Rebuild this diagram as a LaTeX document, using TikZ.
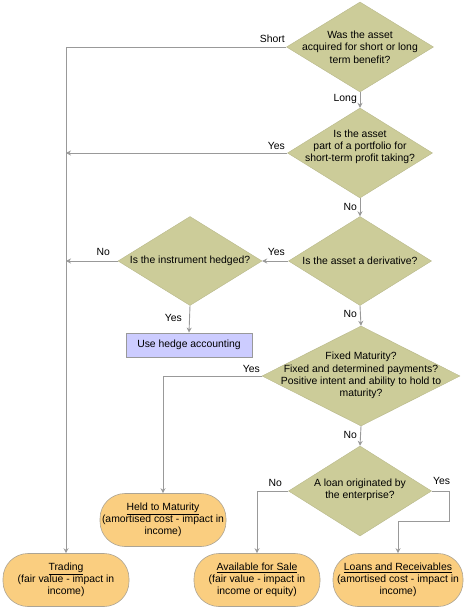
\documentclass[tikz,border=0pt]{standalone}
\usepackage{fontspec}
\setmainfont{Liberation Sans}
\usetikzlibrary{shapes.geometric,arrows.meta}
\definecolor{dfill}{RGB}{204,204,153}
\definecolor{tfill}{RGB}{250,206,128}
\definecolor{bfill}{RGB}{204,204,255}
\definecolor{lgray}{RGB}{153,153,153}
\tikzset{
  dia/.style={diamond,fill=dfill,draw=dfill!90!black,line width=0.4pt,inner sep=0pt},
  dtext/.style={align=center,inner sep=0pt,font=\fontsize{10.4}{12.3}\selectfont},
  term/.style={rectangle,rounded corners=25pt,fill=tfill,draw=lgray!80!tfill,line width=0.6pt,
    minimum width=126pt,minimum height=53pt,align=center,inner sep=0pt,font=\fontsize{10.4}{12.3}\selectfont},
  hbox/.style={rectangle,fill=bfill,draw=lgray,line width=0.8pt,minimum width=126pt,minimum height=24pt,
    inner sep=0pt,font=\fontsize{10.4}{12.3}\selectfont},
  conn/.style={draw=lgray,line width=0.9pt},
  arr/.style={conn,-{Stealth[length=5pt,width=5pt]}},
  lab/.style={inner sep=0pt,font=\fontsize{10.4}{12.3}\selectfont},
}
\begin{document}
\begin{tikzpicture}[x=1pt,y=-1pt]
\useasboundingbox (0,0) rectangle (465,609);
% diamonds
\node[dia,minimum width=147pt,minimum height=90pt] (d1) at (360,47) {};
\node[dtext] (t1) at (360,47) {Was the asset\\acquired for short or long\\term benefit?};
\node[dia,minimum width=145pt,minimum height=90pt] (d2) at (360,153) {};
\node[dtext] (t2) at (360,147) {Is the asset\\part of a portfolio for\\short-term profit taking?};
\node[dia,minimum width=143pt,minimum height=89pt] (d3) at (360,261) {};
\node[dtext] (t3) at (360,261) {Is the asset a derivative?};
\node[dia,minimum width=144pt,minimum height=89pt] (dh) at (190,261) {};
\node[dtext] (th) at (190,261) {Is the instrument hedged?};
\node[dia,minimum width=198pt,minimum height=100pt] (d4) at (361,376) {};
\node[dtext] (t4) at (361,375.5) {Fixed Maturity?\\Fixed and determined payments?\\Positive intent and ability to hold to\\maturity?};
\node[dia,minimum width=143pt,minimum height=90pt] (d5) at (360,491) {};
\node[dtext] (t5) at (360,490) {A loan originated by\\the enterprise?};
% box
\node[hbox] (hb) at (189,345) {Use hedge accounting};
% terminals
\node[term] (tr) at (66,580) {\underline{Trading}\\(fair value - impact in\\income)};
\node[term] (htm) at (163,520) {\underline{Held to Maturity}\\(amortised cost - impact in\\income)};
\node[term] (afs) at (257,580) {\underline{Available for Sale}\\(fair value - impact in\\income or equity)};
\node[term,minimum width=130pt] (lr) at (398,580) {\underline{Loans and Receivables}\\(amortised cost - impact in\\income)};
% coordinates
\coordinate (c1) at (66,47);
\coordinate (j2) at (66,153);
\coordinate (jh) at (66,261);
\coordinate (c5a) at (449,491);
\coordinate (c5b) at (449,521);
\coordinate (c5c) at (398,521);
% connectors
\draw[arr] (d1.west) -- (c1) -- (tr.north);
\draw[arr] (d2.west) -- (j2);
\draw[arr] (dh.west) -- (jh);
\draw[arr] (d3.west) -- (dh.east);
\draw[arr] (dh.south) -- (hb.north);
\draw[arr] (d1.south) -- (d2.north);
\draw[arr] (d2.south) -- (d3.north);
\draw[arr] (d3.south) -- (d4.north);
\draw[arr] (d4.south) -- (d5.north);
\draw[arr] (d4.west) -| (htm.north);
\draw[arr] (d5.west) -| (afs.north);
\draw[arr] (d5.east) -- (c5a) -- (c5b) -- (c5c) -- (lr.north);
% labels
\node[lab,anchor=east] (l1) at (285,39) {Short};
\node[lab,anchor=east] (l2) at (357,99) {Long};
\node[lab,anchor=east] (l3) at (285,146) {Yes};
\node[lab,anchor=east] (l4) at (357,207) {No};
\node[lab,anchor=east] (l5) at (285,252) {Yes};
\node[lab,anchor=east] (l6) at (110,252) {No};
\node[lab,anchor=east] (l7) at (182,318) {Yes};
\node[lab,anchor=east] (l8) at (357,314) {No};
\node[lab,anchor=east] (l9) at (260,369) {Yes};
\node[lab,anchor=east] (l10) at (357,435) {No};
\node[lab,anchor=east] (l11) at (282,483) {No};
\node[lab,anchor=west] (l12) at (433,481) {Yes};
\end{tikzpicture}
\end{document}
